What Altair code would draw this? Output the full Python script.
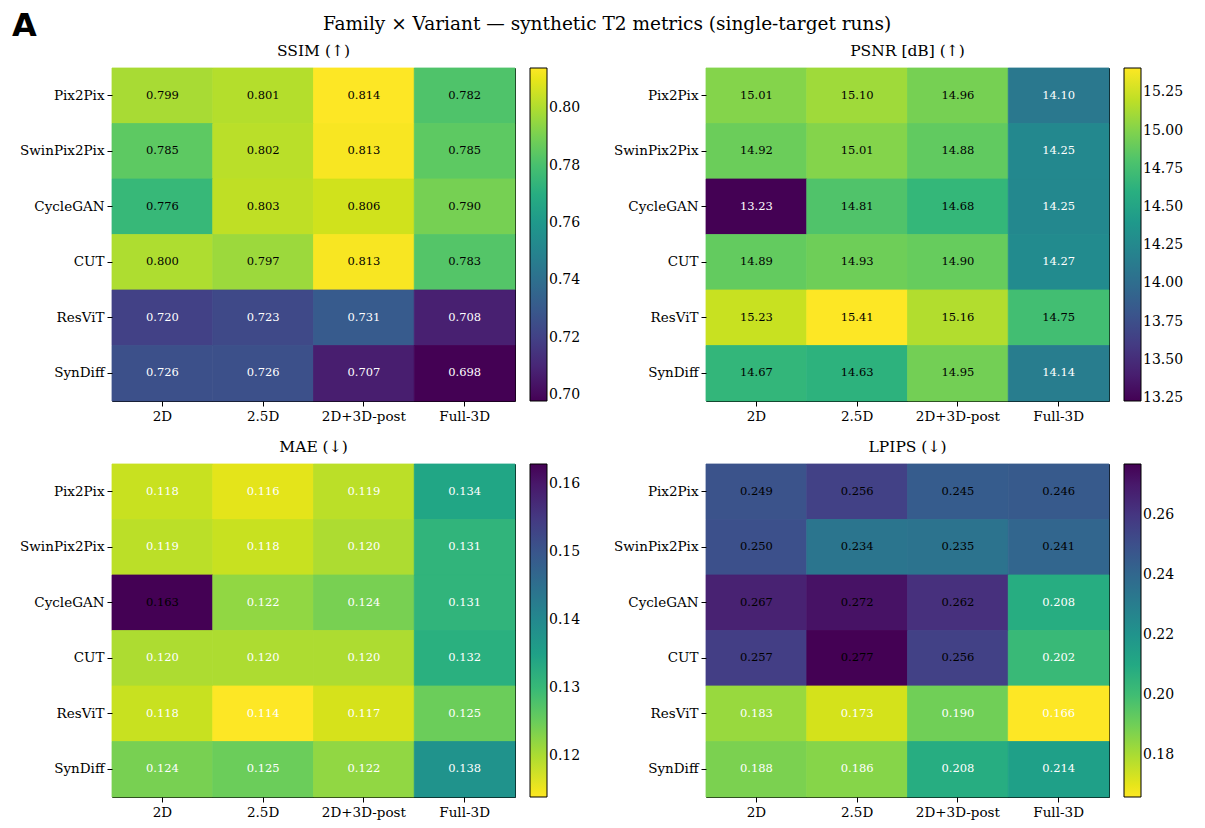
import altair as alt
import pandas as pd

families = ["Pix2Pix", "SwinPix2Pix", "CycleGAN", "CUT", "ResViT", "SynDiff"]
variants = ["2D", "2.5D", "2D+3D-post", "Full-3D"]

ssim = [[0.799, 0.801, 0.814, 0.782],
        [0.785, 0.802, 0.813, 0.785],
        [0.776, 0.803, 0.806, 0.790],
        [0.800, 0.797, 0.813, 0.783],
        [0.720, 0.723, 0.731, 0.708],
        [0.726, 0.726, 0.707, 0.698]]
psnr = [[15.01, 15.10, 14.96, 14.10],
        [14.92, 15.01, 14.88, 14.25],
        [13.23, 14.81, 14.68, 14.25],
        [14.89, 14.93, 14.90, 14.27],
        [15.23, 15.41, 15.16, 14.75],
        [14.67, 14.63, 14.95, 14.14]]
mae = [[0.118, 0.116, 0.119, 0.134],
       [0.119, 0.118, 0.120, 0.131],
       [0.163, 0.122, 0.124, 0.131],
       [0.120, 0.120, 0.120, 0.132],
       [0.118, 0.114, 0.117, 0.125],
       [0.124, 0.125, 0.122, 0.138]]
lpips = [[0.249, 0.256, 0.245, 0.246],
         [0.250, 0.234, 0.235, 0.241],
         [0.267, 0.272, 0.262, 0.208],
         [0.257, 0.277, 0.256, 0.202],
         [0.183, 0.173, 0.190, 0.166],
         [0.188, 0.186, 0.208, 0.214]]

ssim_ticks = [0.70, 0.72, 0.74, 0.76, 0.78, 0.80]
psnr_ticks = [13.25, 13.50, 13.75, 14.00, 14.25, 14.50, 14.75, 15.00, 15.25]
mae_ticks = [0.12, 0.13, 0.14, 0.15, 0.16]
lpips_ticks = [0.18, 0.20, 0.22, 0.24, 0.26]

panel_letter = "A"
main_title = "Family × Variant — synthetic T2 metrics (single-target runs)"

SERIF = "DejaVu Serif"
W, H = 403, 333


def panel(values, title, ticks, cell_fmt, reverse):
    flat = [v for r in values for v in r]
    lo, hi = min(flat), max(flat)
    mid = (lo + hi) / 2
    rows = []
    for i, fam in enumerate(families):
        for j, var in enumerate(variants):
            v = values[i][j]
            rows.append(dict(family=fam, variant=var, value=v,
                             label=format(v, cell_fmt),
                             dark=1 if v > mid else 0))
    df = pd.DataFrame(rows)
    xenc = alt.X("variant:N", sort=variants, title=None,
                 axis=alt.Axis(labelAngle=0))
    yenc = alt.Y("family:N", sort=families, title=None)
    sc = alt.Scale(scheme="viridis", domain=[lo, hi],
                   reverse=reverse, nice=False, zero=False)
    base = alt.Chart(df)
    rect = base.mark_rect(strokeWidth=0.8).encode(
        x=xenc, y=yenc,
        color=alt.Color("value:Q", scale=sc,
                        legend=alt.Legend(title=None, values=ticks, format=".2f",
                                          gradientLength=H, gradientThickness=17,
                                          offset=15, padding=0,
                                          labelOverlap=False)),
        stroke=alt.Stroke("value:Q", scale=sc, legend=None))
    text = base.mark_text(font=SERIF, fontSize=11.5).encode(
        x=xenc, y=yenc, text="label:N",
        fill=alt.condition("datum.dark == 1", alt.value("black"), alt.value("white")))
    return alt.layer(rect, text).resolve_scale(stroke="independent").properties(
        width=W, height=H,
        title=alt.TitleParams(title, font=SERIF, fontSize=15.5,
                              fontWeight="normal", offset=8))


p1 = panel(ssim, "SSIM (↑)", ssim_ticks, ".3f", False)
p2 = panel(psnr, "PSNR [dB] (↑)", psnr_ticks, ".2f", False)
p3 = panel(mae, "MAE (↓)", mae_ticks, ".3f", True)
p4 = panel(lpips, "LPIPS (↓)", lpips_ticks, ".3f", True)

hdr_df = pd.DataFrame({"t": [panel_letter]})
letter = alt.Chart(hdr_df).mark_text(
    font="DejaVu Sans", fontWeight="bold", fontSize=32,
    align="left", baseline="alphabetic", color="black").encode(
    text="t:N", x=alt.value(-100), y=alt.value(22))
ttl = alt.Chart(pd.DataFrame({"t": [main_title]})).mark_text(
    font=SERIF, fontSize=18.5, align="center", baseline="alphabetic",
    color="black").encode(
    text="t:N", x=alt.value(495), y=alt.value(16))
header = alt.layer(letter, ttl).properties(
    width=800, height=24, view=alt.ViewBackground(stroke=None))

row1 = alt.hconcat(p1, p2, spacing=31).resolve_scale(color="independent", stroke="independent")
row2 = alt.hconcat(p3, p4, spacing=31).resolve_scale(color="independent", stroke="independent")
grid = alt.vconcat(row1, row2, spacing=16).resolve_scale(color="independent", stroke="independent")

chart = alt.vconcat(header, grid, spacing=1).resolve_scale(
    color="independent", stroke="independent"
).properties(
    padding={"left": 4, "top": 2, "right": 5, "bottom": 5},
).configure_axis(
    labelFont=SERIF, labelFontSize=13.5, labelColor="black",
    tickColor="black", tickSize=5, domain=False, grid=False, labelPadding=3
).configure_view(
    stroke="black", strokeWidth=1
).configure_legend(
    labelFont=SERIF, labelFontSize=14, labelColor="black",
    gradientStrokeColor="black", gradientStrokeWidth=1
).configure_title(color="black")

chart.save("out.html", embed_options={"renderer": "svg", "actions": False})
